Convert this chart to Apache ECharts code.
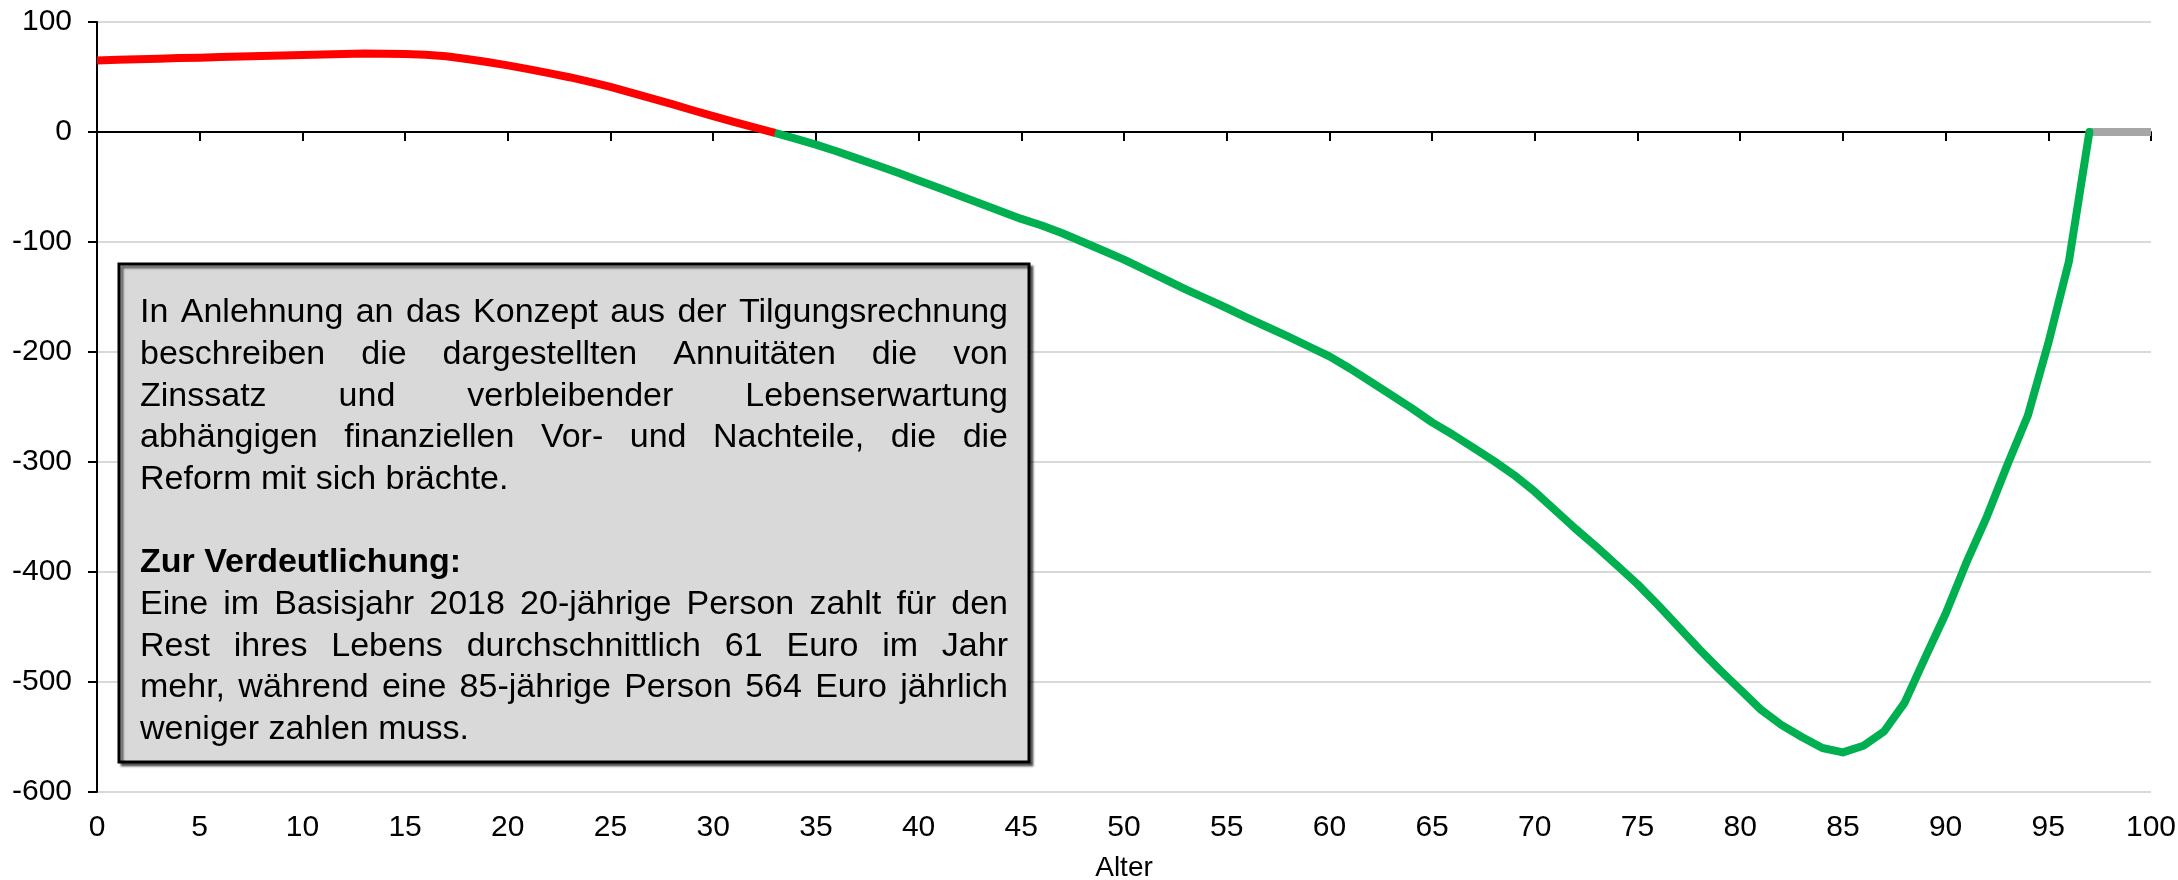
<!DOCTYPE html>
<html>
<head>
<meta charset="utf-8">
<script src="https://cdn.jsdelivr.net/npm/echarts@6/dist/echarts.min.js"></script>
<style>
html,body{margin:0;padding:0;background:#fff;}
#c{width:2178px;height:880px;}
</style>
</head>
<body>
<div id="c"></div>
<script>
// ---- Data ----
const xTicks = [0,5,10,15,20,25,30,35,40,45,50,55,60,65,70,75,80,85,90,95,100];
const yTicks = [100,0,-100,-200,-300,-400,-500,-600];

const redAges = [0,1,2,3,4,5,6,7,8,9,10,11,12,13,14,15,16,17,18,19,20,21,22,23,24,25,26,27,28,29,30,31,32,33];
const redValues = [65,65.6,66.2,66.7,67.2,67.6,68.1,68.6,69.1,69.6,70.0,70.5,71.0,71.3,71.1,70.8,70.2,68.8,66.3,63.6,60.6,57.2,53.5,49.8,45.5,41.0,35.8,30.5,25.3,19.8,14.4,9.2,4.2,-0.8];

const greenAges = [33,34,35,36,37,38,39,40,41,42,43,44,45,46,47,48,49,50,51,52,53,54,55,56,57,58,59,60,61,62,63,64,65,66,67,68,69,70,71,72,73,74,75,76,77,78,79,80,81,82,83,84,85,86,87,88,89,90,91,92,93,94,95,96,97];
const greenValues = [-0.8,-6,-11.5,-17.5,-24,-30.5,-37,-44,-51,-58,-65,-72,-79,-85,-92,-100,-108,-116,-125,-134,-143,-151.5,-160,-169,-177.5,-186,-195,-204,-215,-227,-239,-251,-264,-275,-287,-299,-312,-327,-344,-361,-377,-394,-411,-430,-450,-470,-489,-507,-525,-539,-550,-560,-564,-558,-545,-519,-478,-438,-392,-350,-303,-258,-192,-118,0];

const greyAges = [97,98,99,100];
const greyValues = [0,0,0,0];

const boxLines = [
  {text:'In Anlehnung an das Konzept aus der Tilgungsrechnung', justify:true, bold:false},
  {text:'beschreiben die dargestellten Annuitäten die von', justify:true, bold:false},
  {text:'Zinssatz und verbleibender Lebenserwartung', justify:true, bold:false},
  {text:'abhängigen finanziellen Vor- und Nachteile, die die', justify:true, bold:false},
  {text:'Reform mit sich brächte.', justify:false, bold:false},
  {text:'', justify:false, bold:false},
  {text:'Zur Verdeutlichung:', justify:false, bold:true},
  {text:'Eine im Basisjahr 2018 20-jährige Person zahlt für den', justify:true, bold:false},
  {text:'Rest ihres Lebens durchschnittlich 61 Euro im Jahr', justify:true, bold:false},
  {text:'mehr, während eine 85-jährige Person 564 Euro jährlich', justify:true, bold:false},
  {text:'weniger zahlen muss.', justify:false, bold:false}
];
const xAxisName = 'Alter';

// ---- Rendering ----
const FAM = '"Liberation Sans", Arial, Helvetica, sans-serif';
const chart = echarts.init(document.getElementById('c'), null, {renderer:'canvas'});

function pairs(xs, ys){ return xs.map((x,i)=>[x, ys[i]]); }

// text box layout
const BOX = {x:119, y:264, w:910, h:498};
const TXT = {left:140, right:1008, firstBase:324, pitch:41.7, size:34};
const mctx = document.createElement('canvas').getContext('2d');
function fontStr(bold){ return (bold?'bold ':'') + TXT.size + 'px ' + FAM; }
const textEls = [];
boxLines.forEach((ln, i) => {
  if (!ln.text) return;
  const base = TXT.firstBase + i*TXT.pitch;
  const yMid = base - TXT.size*0.33;
  const f = fontStr(ln.bold);
  if (ln.justify) {
    mctx.font = f;
    const words = ln.text.split(' ');
    const ws = words.map(w => mctx.measureText(w).width);
    const total = ws.reduce((a,b)=>a+b,0);
    const gap = (TXT.right - TXT.left - total) / (words.length - 1);
    let x = TXT.left;
    words.forEach((w, k) => {
      textEls.push({type:'text', x:x, y:yMid, style:{text:w, font:f, fill:'#000', textAlign:'left', textVerticalAlign:'middle', verticalAlign:'middle'}, z:100});
      x += ws[k] + gap;
    });
  } else {
    textEls.push({type:'text', x:TXT.left, y:yMid, style:{text:ln.text, font:f, fill:'#000', textAlign:'left', textVerticalAlign:'middle', verticalAlign:'middle'}, z:100});
  }
});

const labelStyle = {fontSize:30, color:'#000', fontFamily:FAM};

const option = {
  animation:false,
  backgroundColor:'#fff',
  grid:{left:97, right:27, top:22, bottom:88, containLabel:false, outerBoundsMode:'none'},
  xAxis:[
    {
      type:'value', min:0, max:100, interval:5,
      axisLine:{show:true, onZero:true, lineStyle:{color:'#000', width:2}},
      axisTick:{show:true, inside:false, length:9, lineStyle:{color:'#000', width:2}},
      axisLabel:{show:false},
      splitLine:{show:false}
    },
    {
      type:'value', min:0, max:100, interval:5, position:'bottom',
      axisLine:{show:false, onZero:false},
      axisTick:{show:false},
      axisLabel:Object.assign({margin:21, formatter:v => xTicks.includes(v) ? String(v) : ''}, labelStyle),
      splitLine:{show:false},
      name:xAxisName, nameLocation:'middle', nameGap:62,
      nameTextStyle:{fontSize:28, color:'#000', fontFamily:FAM}
    }
  ],
  yAxis:{
    type:'value', min:-600, max:100, interval:100,
    axisLine:{show:true, onZero:false, lineStyle:{color:'#000', width:2}},
    axisTick:{show:true, inside:false, length:9, lineStyle:{color:'#000', width:2}},
    axisLabel:Object.assign({margin:25, formatter:v => yTicks.includes(v) ? String(v) : ''}, labelStyle),
    splitLine:{show:true, lineStyle:{color:'#d9d9d9', width:2}}
  },
  series:[
    {type:'line', name:'neutral', xAxisIndex:0, data:pairs(greyAges, greyValues), showSymbol:false, symbol:'none',
     lineStyle:{color:'#a6a6a6', width:8, cap:'butt', join:'round'}, z:3},
    {type:'line', name:'Vorteil', xAxisIndex:0, data:pairs(greenAges, greenValues), showSymbol:false, symbol:'none',
     lineStyle:{color:'#00b050', width:8, cap:'round', join:'round'}, z:4},
    {type:'line', name:'Nachteil', xAxisIndex:0, data:pairs(redAges, redValues), showSymbol:false, symbol:'none',
     lineStyle:{color:'#ff0000', width:8, cap:'butt', join:'round'}, z:5}
  ],
  graphic:[
    {type:'rect', shape:{x:BOX.x, y:BOX.y, width:BOX.w, height:BOX.h}, z:90,
     style:{fill:'#d9d9d9', stroke:'#000', lineWidth:3, shadowColor:'rgba(0,0,0,0.55)', shadowOffsetX:3, shadowOffsetY:3, shadowBlur:2}}
  ].concat(textEls)
};
chart.setOption(option);
</script>
</body>
</html>
